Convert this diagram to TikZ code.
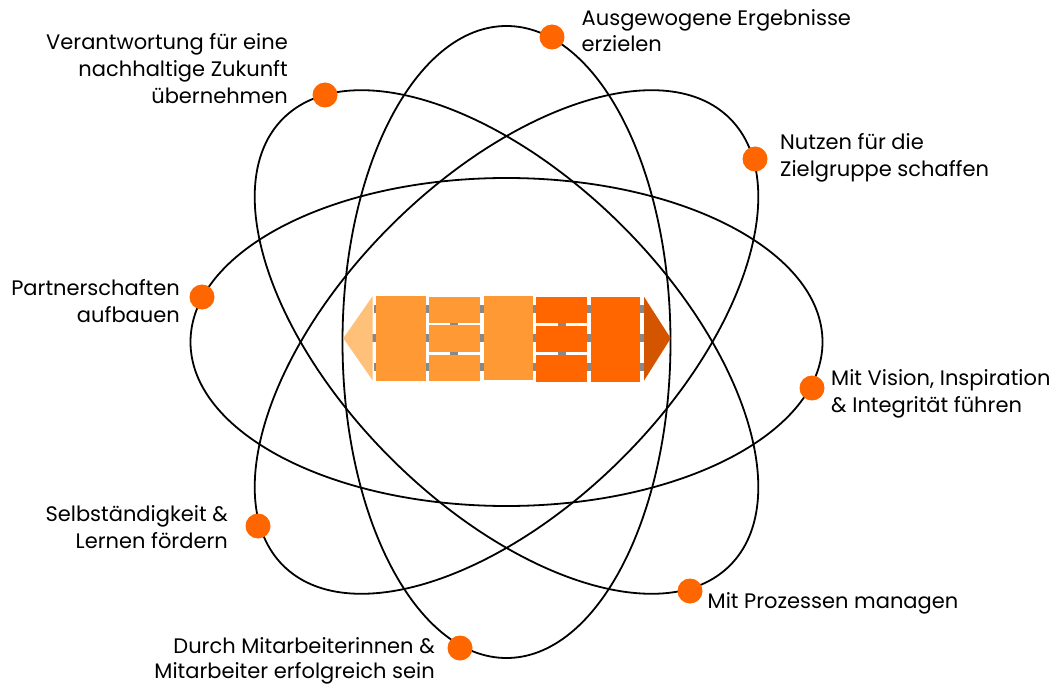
\documentclass[tikz,border=0pt]{standalone}
\usepackage{fontspec}
\setmainfont{Poppins}
\definecolor{orL}{HTML}{FFC07A}
\definecolor{orM}{HTML}{FF9933}
\definecolor{orD}{HTML}{FF6600}
\definecolor{orX}{HTML}{D45500}
\definecolor{grayc}{HTML}{888888}
\begin{document}
\begin{tikzpicture}[x=1pt,y=-1pt,
  orbit/.style={draw=black, line width=1.8pt},
  dot/.style={circle, fill=orD, minimum size=25pt, inner sep=0pt},
  lbl/.style={font=\fontsize{21}{27}\selectfont, inner sep=0pt},
  lblL/.style={lbl, anchor=base east},
  lblR/.style={lbl, anchor=base west},
  link/.style={grayc, line width=8pt}]
\useasboundingbox (0,0) rectangle (1051,684);
\coordinate (c) at (506.5,342);
% orbits
\foreach \r in {0,45,90,135}
  \draw[orbit, rotate around={\r:(c)}] (c) ellipse [x radius=316, y radius=164];
% central glyph: gray links
\draw[link] (374,309) -- (644,309);
\draw[link, line cap=round] (372,338.3) -- (644,338.3);
\draw[link] (374,367) -- (644,367);
\draw[link] (453.5,309) -- (453.5,367);
\draw[link] (562,309) -- (562,367);
% arrows
\fill[orL] (343.3,338.3) -- (372.7,296) -- (372.7,380.5) -- cycle;
\fill[orX] (670.7,338.3) -- (644,296.7) -- (644,380.7) -- cycle;
% blocks
\fill[orM] (376,296) rectangle (426,380.5);
\fill[orM] (429.3,296.7) rectangle (480,322.7);
\fill[orM] (429.3,325.3) rectangle (480,351.7);
\fill[orM] (429.3,355) rectangle (480,380.7);
\fill[orM] (484,296) rectangle (532.7,380.3);
\fill[orD] (536,296.7) rectangle (586.7,322.7);
\fill[orD] (536,326) rectangle (586.7,351.7);
\fill[orD] (536,355) rectangle (586.7,381.7);
\fill[orD] (591,296.7) rectangle (640,381.7);
% dots
\node[dot] (d1) at (325,95) {};
\node[dot] (d2) at (552,37) {};
\node[dot] (d3) at (755,159) {};
\node[dot] (d4) at (202,297) {};
\node[dot] (d5) at (812,388) {};
\node[dot] (d6) at (258,526) {};
\node[dot] (d7) at (690,591) {};
\node[dot] (d8) at (460,648) {};
% labels
\node[lblL] (t1a) at (288,50) {Verantwortung für eine};
\node[lblL] (t1b) at (288,77) {nachhaltige Zukunft};
\node[lblL] (t1c) at (288,104) {übernehmen};
\node[lblR] (t2a) at (581.5,26) {Ausgewogene Ergebnisse};
\node[lblR] (t2b) at (581.5,52) {erzielen};
\node[lblR] (t3a) at (780,150) {Nutzen für die};
\node[lblR] (t3b) at (780,177) {Zielgruppe schaffen};
\node[lblL] (t4a) at (180,296) {Partnerschaften};
\node[lblL] (t4b) at (180,322) {aufbauen};
\node[lblR] (t5a) at (831,385) {Mit Vision, Inspiration};
\node[lblR] (t5b) at (831,412) {\& Integrität führen};
\node[lblL] (t6a) at (228,521) {Selbständigkeit \&};
\node[lblL] (t6b) at (228,548) {Lernen fördern};
\node[lblR] (t7a) at (707.5,608) {Mit Prozessen managen};
\node[lblL] (t8a) at (435,653) {Durch Mitarbeiterinnen \&};
\node[lblL] (t8b) at (435,678) {Mitarbeiter erfolgreich sein};
\end{tikzpicture}
\end{document}
